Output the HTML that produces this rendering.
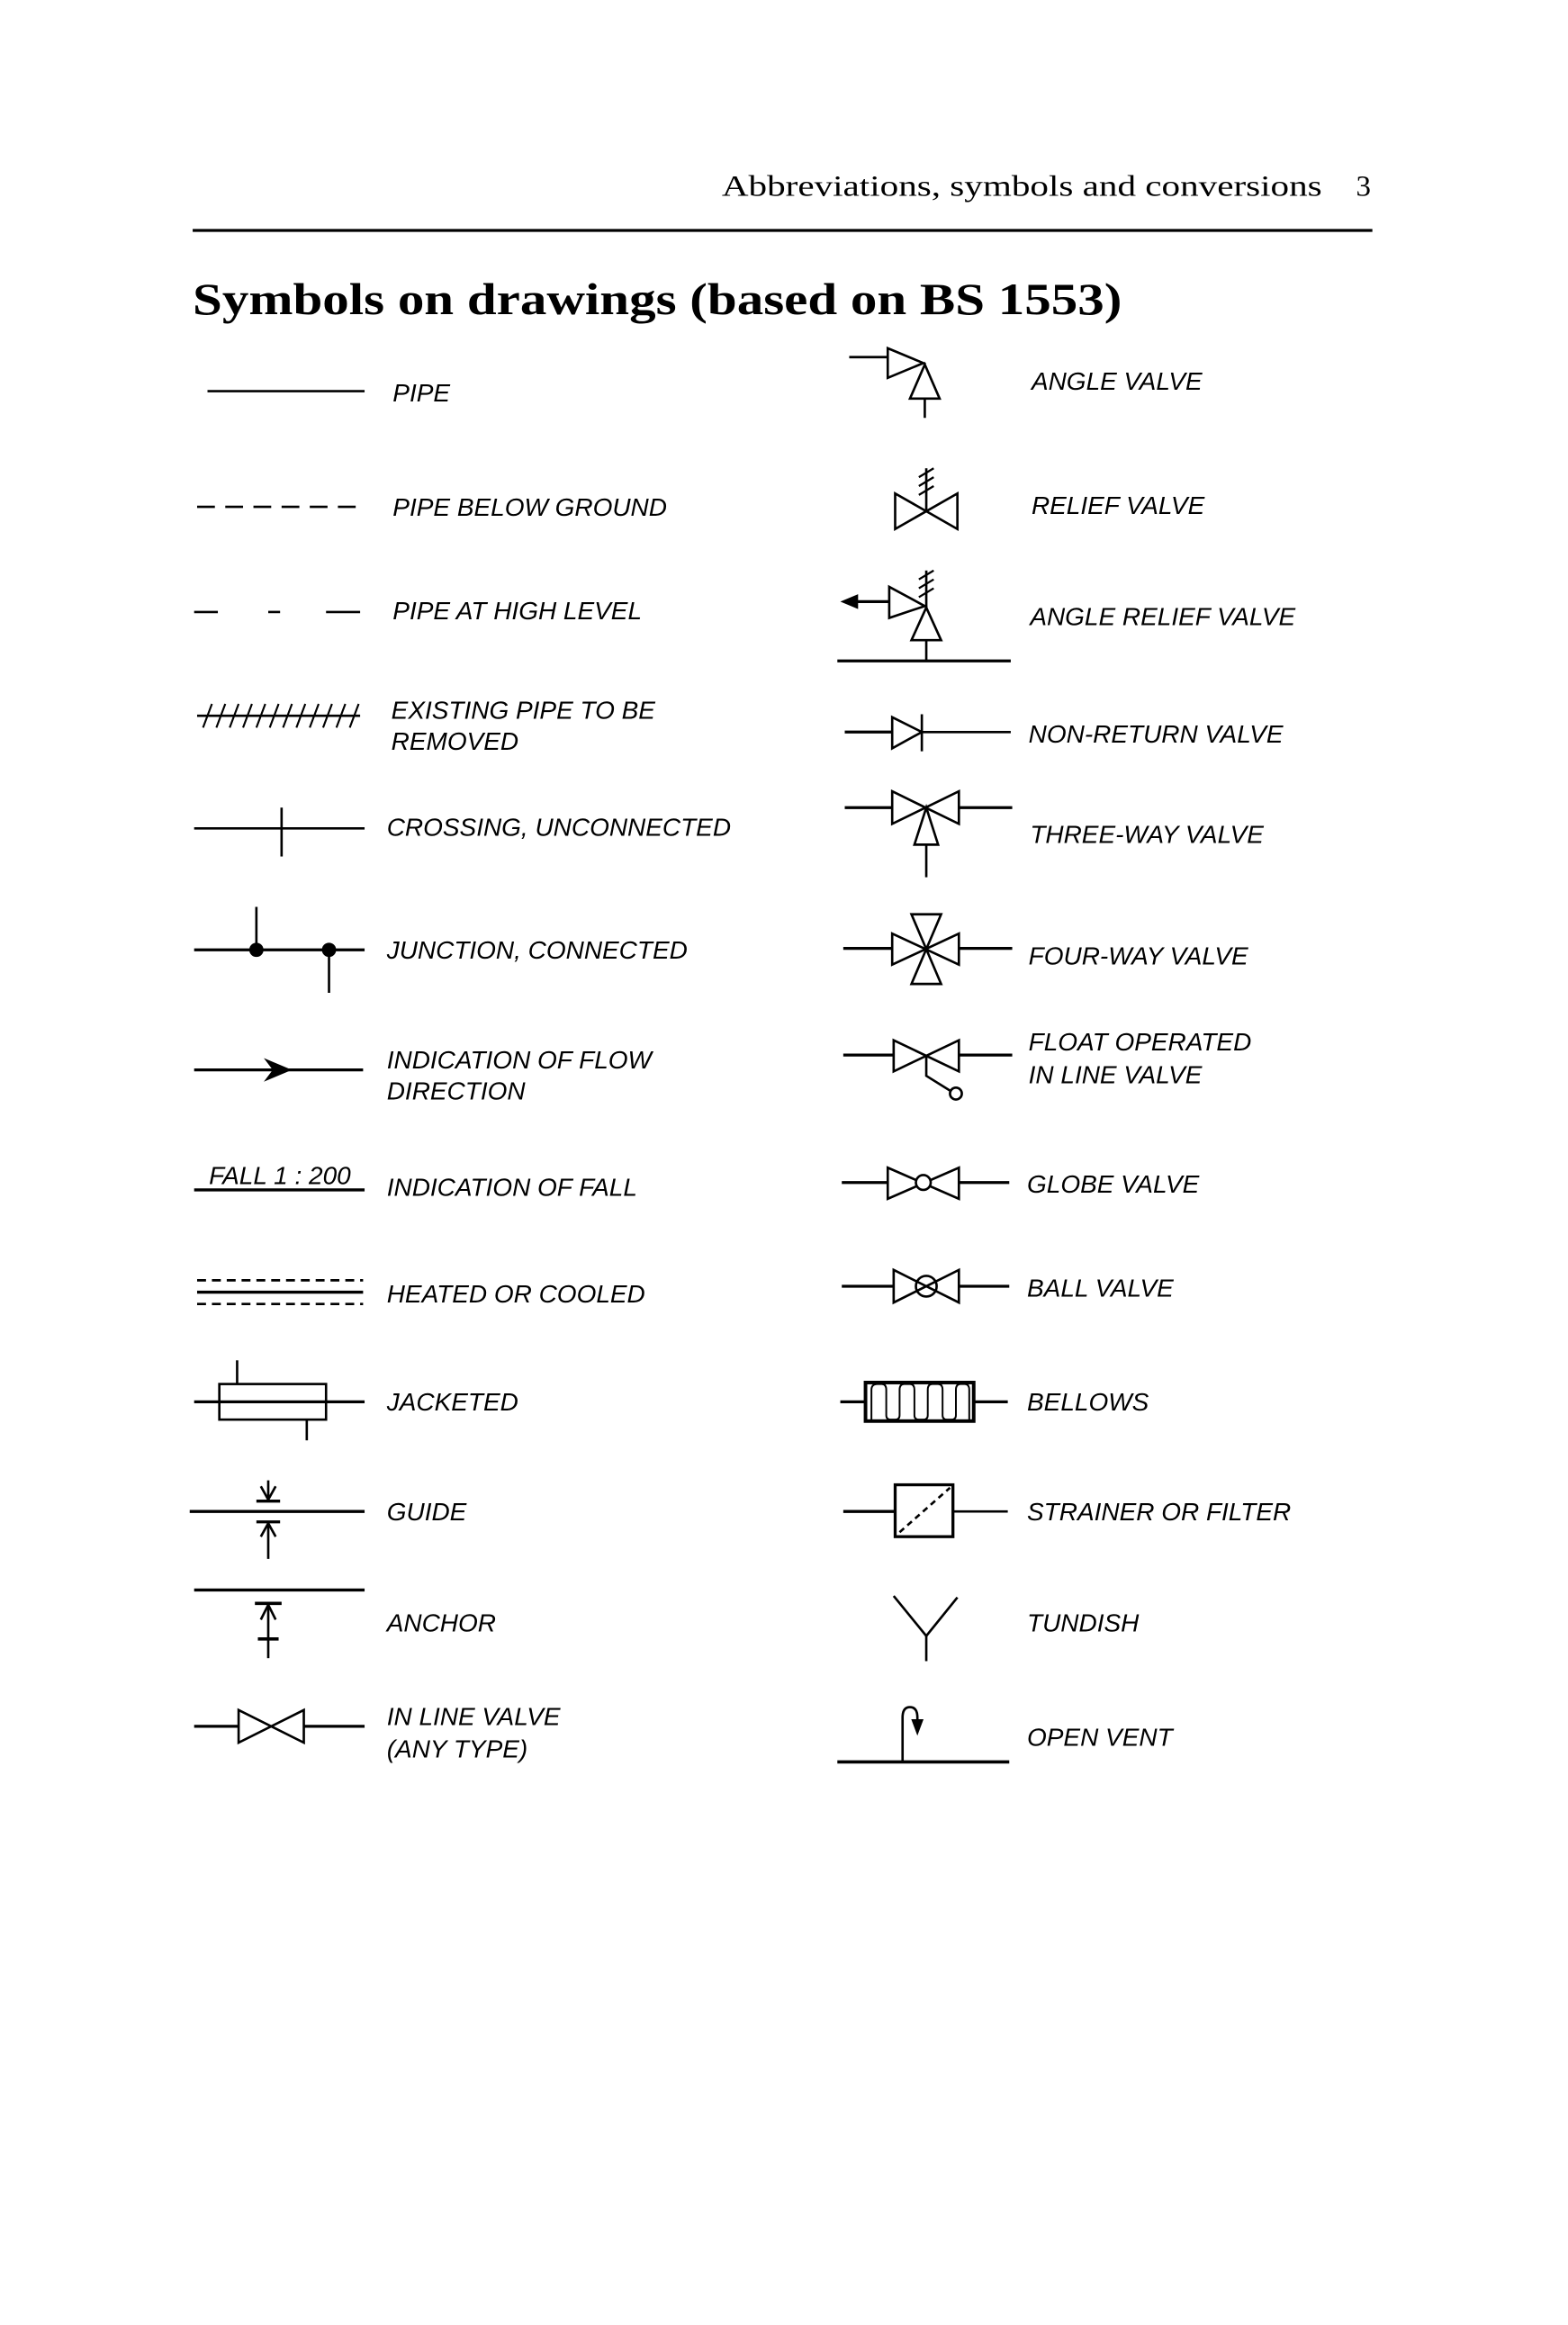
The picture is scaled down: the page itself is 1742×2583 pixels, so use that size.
<!DOCTYPE html>
<html><head><meta charset="utf-8"><style>
html,body{margin:0;padding:0;background:#fff;}
svg{display:block;}
.l{font-family:"Liberation Sans",sans-serif;font-style:italic;font-size:17px;fill:#000;}
</style></head><body>
<svg width="1742" height="2583" viewBox="0 0 1058 1569" preserveAspectRatio="none" xmlns="http://www.w3.org/2000/svg">
<g fill="none" stroke="#000" stroke-width="1.6" stroke-linejoin="miter">
<!-- header -->
<text x="892" y="132" text-anchor="end" font-family="Liberation Serif,serif" font-size="20" textLength="405" lengthAdjust="spacingAndGlyphs" fill="#000" stroke="none">Abbreviations, symbols and conversions</text>
<text x="925" y="132" text-anchor="end" font-family="Liberation Serif,serif" font-size="20" fill="#000" stroke="none">3</text>
<line x1="130" y1="155.5" x2="926" y2="155.5" stroke-width="2"/>
<text x="130" y="212" font-family="Liberation Serif,serif" font-weight="bold" font-size="30" textLength="627" lengthAdjust="spacingAndGlyphs" fill="#000" stroke="none">Symbols on drawings (based on BS 1553)</text>

<!-- LEFT COLUMN -->
<line x1="140" y1="264" x2="246" y2="264"/>
<line x1="133" y1="342" x2="246" y2="342" stroke-dasharray="12 7"/>
<line x1="131" y1="413" x2="147" y2="413"/><line x1="181" y1="413" x2="189" y2="413"/><line x1="220" y1="413" x2="243" y2="413"/>
<line x1="133" y1="483" x2="243" y2="483"/>
<path d="M137,491L143,475M146,491L152,475M155,491L161,475M164,491L170,475M173,491L179,475M182,491L188,475M191,491L197,475M200,491L206,475M209,491L215,475M218,491L224,475M227,491L233,475M236,491L242,475" stroke-width="1.3"/>
<line x1="131" y1="559" x2="246" y2="559"/><line x1="190" y1="545" x2="190" y2="578"/>
<line x1="131" y1="641" x2="246" y2="641" stroke-width="2"/>
<line x1="173" y1="612" x2="173" y2="641"/><line x1="222" y1="641" x2="222" y2="670"/>
<circle cx="173" cy="641" r="4" fill="#000"/><circle cx="222" cy="641" r="4" fill="#000"/>
<line x1="131" y1="722" x2="245" y2="722" stroke-width="2"/>
<path d="M178,714L197,722L178,730L184,722Z" fill="#000" stroke="none"/>
<text x="141" y="799" class="l" font-size="13.5" stroke="none">FALL 1 : 200</text>
<line x1="131" y1="803" x2="246" y2="803" stroke-width="2"/>
<line x1="133" y1="864" x2="245" y2="864" stroke-dasharray="6 4"/>
<line x1="133" y1="872" x2="245" y2="872" stroke-width="2"/>
<line x1="133" y1="880" x2="245" y2="880" stroke-dasharray="6 4"/>
<rect x="148" y="934" width="72" height="24"/>
<line x1="131" y1="946" x2="246" y2="946" stroke-width="2"/>
<line x1="160" y1="918" x2="160" y2="934"/><line x1="207" y1="958" x2="207" y2="972"/>
<line x1="128" y1="1020" x2="246" y2="1020" stroke-width="2"/>
<line x1="181" y1="999" x2="181" y2="1013"/><path d="M176,1003L181,1012L186,1003"/><line x1="173" y1="1013" x2="189" y2="1013" stroke-width="2"/>
<line x1="173" y1="1027" x2="189" y2="1027" stroke-width="2"/><path d="M176,1037L181,1028L186,1037"/><line x1="181" y1="1027" x2="181" y2="1052"/>
<line x1="131" y1="1073" x2="246" y2="1073" stroke-width="2"/>
<line x1="172" y1="1082" x2="190" y2="1082" stroke-width="2.2"/><path d="M176,1093L181,1083L186,1093"/><line x1="181" y1="1082" x2="181" y2="1119"/><line x1="174" y1="1106" x2="188" y2="1106" stroke-width="2.2"/>
<line x1="131" y1="1165" x2="161" y2="1165" stroke-width="2"/><line x1="205" y1="1165" x2="246" y2="1165" stroke-width="2"/>
<path d="M161,1154L205,1176L205,1154L161,1176Z"/>

<!-- RIGHT COLUMN -->
<line x1="573" y1="241" x2="599" y2="241"/>
<path d="M599,235L599,255L623,245Z"/><path d="M624,246L614,269L634,269Z"/><line x1="624" y1="269" x2="624" y2="282"/>

<path d="M604,333L646,357L646,333L604,357Z"/><line x1="625" y1="316" x2="625" y2="345"/>
<path d="M620,322L630,316M620,328L630,322M620,334L630,328" stroke-width="1.4"/>

<line x1="576" y1="406" x2="600" y2="406" stroke-width="2"/><path d="M567,406L579,401L579,411Z" fill="#000" stroke="none"/>
<path d="M600,396L600,417L624,409Z"/><path d="M625,410L615,432L635,432Z"/><line x1="625" y1="432" x2="625" y2="446"/>
<line x1="625" y1="385" x2="625" y2="410"/><path d="M620,391L630,385M620,397L630,391M620,403L630,397" stroke-width="1.4"/>
<line x1="565" y1="446" x2="682" y2="446" stroke-width="2"/>

<line x1="570" y1="494" x2="602" y2="494" stroke-width="2"/><path d="M602,484L602,505L622,494Z"/><line x1="622" y1="482" x2="622" y2="507"/><line x1="622" y1="494" x2="682" y2="494"/>

<line x1="570" y1="545" x2="602" y2="545" stroke-width="2"/><path d="M602,534L647,556L647,534L602,556Z"/><line x1="647" y1="545" x2="683" y2="545" stroke-width="2"/>
<path d="M625,545L617,570L633,570Z"/><line x1="625" y1="570" x2="625" y2="592"/>

<line x1="569" y1="640" x2="602" y2="640" stroke-width="2"/><path d="M602,630L647,651L647,630L602,651Z"/><line x1="647" y1="640" x2="683" y2="640" stroke-width="2"/>
<path d="M615,617L635,617L615,664L635,664Z"/>

<line x1="569" y1="712" x2="603" y2="712" stroke-width="2"/><path d="M603,702L647,723L647,702L603,723Z"/><line x1="647" y1="712" x2="683" y2="712" stroke-width="2"/>
<path d="M625,712L625,726L641,736"/><circle cx="645" cy="738" r="4"/>

<line x1="568" y1="798" x2="599" y2="798" stroke-width="2"/><path d="M599,788L647,809L647,788L599,809Z"/><circle cx="623" cy="798" r="5" fill="#fff"/><line x1="647" y1="798" x2="681" y2="798" stroke-width="2"/>

<line x1="568" y1="868" x2="603" y2="868" stroke-width="2"/><path d="M603,857L647,879L647,857L603,879Z"/><circle cx="625" cy="868" r="7"/><line x1="647" y1="868" x2="681" y2="868" stroke-width="2"/>

<line x1="567" y1="946" x2="584" y2="946" stroke-width="2"/><rect x="584" y="933" width="73" height="26" stroke-width="2.4"/><line x1="657" y1="946" x2="680" y2="946" stroke-width="2"/>
<path d="M588,959L588,938Q588,934 592,934L595,934Q598,934 598,938L598,955Q598,958 601,958L604,958Q607,958 607,955L607,938Q607,934 610,934L614,934Q617,934 617,938L617,955Q617,958 620,958L623,958Q626,958 626,955L626,938Q626,934 629,934L633,934Q636,934 636,938L636,955Q636,958 639,958L642,958Q645,958 645,955L645,938Q645,934 648,934L651,934Q654,934 654,938L654,959" stroke-width="1.2"/>

<line x1="569" y1="1020" x2="604" y2="1020" stroke-width="2"/><rect x="604" y="1002" width="39" height="35" stroke-width="2"/><line x1="643" y1="1020" x2="680" y2="1020"/>
<line x1="607" y1="1034" x2="641" y2="1004" stroke-dasharray="4 3"/>

<path d="M603,1077L625,1104L646,1078"/><line x1="625" y1="1104" x2="625" y2="1121"/>

<line x1="565" y1="1189" x2="681" y2="1189" stroke-width="2.2"/>
<path d="M609,1189L609,1159Q609,1152 614,1152Q619,1152 619,1159L619,1162"/><path d="M616,1161L619,1169L622,1161Z" fill="#000"/>
</g>

<!-- LABELS -->
<g class="l">
<text x="265" y="271" class="l">PIPE</text>
<text x="265" y="348" class="l">PIPE BELOW GROUND</text>
<text x="265" y="418" class="l">PIPE AT HIGH LEVEL</text>
<text x="264" y="485" class="l">EXISTING PIPE TO BE</text>
<text x="264" y="506" class="l">REMOVED</text>
<text x="261" y="564" class="l">CROSSING, UNCONNECTED</text>
<text x="261" y="647" class="l">JUNCTION, CONNECTED</text>
<text x="261" y="721" class="l">INDICATION OF FLOW</text>
<text x="261" y="742" class="l">DIRECTION</text>
<text x="261" y="807" class="l">INDICATION OF FALL</text>
<text x="261" y="879" class="l">HEATED OR COOLED</text>
<text x="261" y="952" class="l">JACKETED</text>
<text x="261" y="1026" class="l">GUIDE</text>
<text x="261" y="1101" class="l">ANCHOR</text>
<text x="261" y="1164" class="l">IN LINE VALVE</text>
<text x="261" y="1186" class="l">(ANY TYPE)</text>

<text x="696" y="263" class="l">ANGLE VALVE</text>
<text x="696" y="347" class="l">RELIEF VALVE</text>
<text x="695" y="422" class="l">ANGLE RELIEF VALVE</text>
<text x="694" y="501" class="l">NON-RETURN VALVE</text>
<text x="695" y="569" class="l">THREE-WAY VALVE</text>
<text x="694" y="651" class="l">FOUR-WAY VALVE</text>
<text x="694" y="709" class="l">FLOAT OPERATED</text>
<text x="694" y="731" class="l">IN LINE VALVE</text>
<text x="693" y="805" class="l">GLOBE VALVE</text>
<text x="693" y="875" class="l">BALL VALVE</text>
<text x="693" y="952" class="l">BELLOWS</text>
<text x="693" y="1026" class="l">STRAINER OR FILTER</text>
<text x="693" y="1101" class="l">TUNDISH</text>
<text x="693" y="1178" class="l">OPEN VENT</text>
</g>
</svg>
</body></html>
